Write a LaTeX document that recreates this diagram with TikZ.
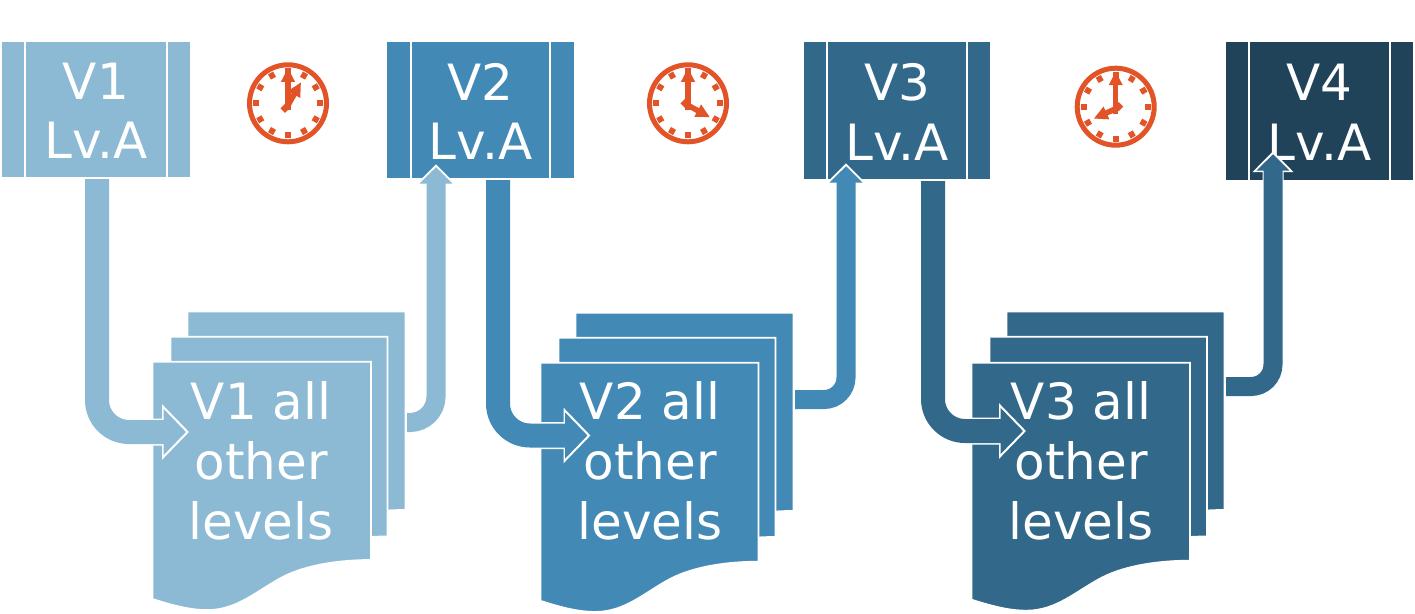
\documentclass[tikz,border=0pt]{standalone}
\usepackage{fontspec}
\setmainfont{DejaVu Sans}
\usetikzlibrary{arrows.meta}
\definecolor{cone}{HTML}{8CB9D4}
\definecolor{ctwo}{HTML}{4389B5}
\definecolor{cthree}{HTML}{32688A}
\definecolor{cfour}{HTML}{20435A}
\definecolor{corange}{HTML}{E25328}
\tikzset{
  lvnode/.style={fill=#1,text=white,inner sep=0pt,align=center,font=\fontsize{50}{60}\selectfont},
  doctext/.style={text=white,inner sep=0pt,align=center,font=\fontsize{50}{60}\selectfont},
  sepline/.style={draw=white,line width=1.8pt},
  page/.style={fill=#1,draw=white,line width=1.8pt},
  thickflow/.style={draw=#1,line width=24pt,shorten >=3pt,-{Triangle[length=22.5pt,width=45pt]},
    preaction={draw=white,line width=27pt,shorten >=0pt,-{Triangle[length=27pt,width=54pt]}}},
  thinflow/.style={draw=#1,line width=19pt,shorten >=3pt,-{Triangle[length=16.5pt,width=32pt]},
    preaction={draw=white,line width=21pt,shorten >=0pt,-{Triangle[length=21pt,width=40pt]}}},
  clockhand/.style={draw=corange,line width=5.5pt,-{Triangle[length=14pt,width=13pt]}},
}
\newcommand{\docpage}[5]{%
  \pgfmathsetmacro{\pw}{#3/218}\pgfmathsetmacro{\ph}{#4/198}%
  \path[page=#5,shift={(#1,#2)},xscale=\pw,yscale=\ph] (0,0) -- (218,0) -- (218,198)
    .. controls (190,198) and (155,202) .. (130,215)
    .. controls (105,228) and (85,248) .. (55,248)
    .. controls (38,248) and (22,244) .. (0,237) -- cycle;}
\newcommand{\lvsep}[3]{%
  \draw[sepline] ([xshift=#2pt]#1.north west) -- ([xshift=#2pt]#1.south west);
  \draw[sepline] ([xshift=-#3pt]#1.north east) -- ([xshift=-#3pt]#1.south east);}
\newcommand{\lvtext}[2]{\raisebox{-1.5pt}[\height][\depth]{#1}\\\raisebox{-1pt}[\height][\depth]{#2}}
\newcommand{\clockface}[6]{%
  \begin{scope}[shift={(#1,#2)}]
    \draw[corange,line width=5pt] (0,0) circle (38.5pt);
    \foreach \a in {0,30,...,330}
      \fill[corange,rotate=\a] (29,-2.9) rectangle (35,2.9);
    \draw[clockhand] (0,7) -- (0,-35.5);
    \draw[clockhand] (0,2) -- (#3,#4);
    \fill[corange,rotate around={45:(#5,#6)}] (#5-3.2,#6-3.2) rectangle (#5+3.2,#6+3.2);
  \end{scope}}
\begin{document}
\begin{tikzpicture}[x=1pt,y=-1pt]
\useasboundingbox (0,0) rectangle (1415,613);
% level A boxes
\node[lvnode=cone,minimum width=188pt,minimum height=135pt] (v1) at (96,109.5) {\lvtext{V1}{Lv.A}};
\node[lvnode=ctwo,minimum width=187pt,minimum height=136pt] (v2) at (480.5,110) {\lvtext{V2}{Lv.A}};
\node[lvnode=cthree,minimum width=186pt,minimum height=137pt] (v3) at (897,110.5) {\lvtext{V3}{Lv.A}};
\node[lvnode=cfour,minimum width=187pt,minimum height=138pt] (v4) at (1319.5,111) {\lvtext{V4}{Lv.A}};
\lvsep{v1}{23}{23}
\lvsep{v2}{24}{24}
\lvsep{v3}{23}{23}
\lvsep{v4}{23}{23}
% clocks
\clockface{288}{103.3}{13}{-21}{-3}{5}
\clockface{688}{103.3}{22}{14}{-3}{0}
\clockface{1115.7}{106.7}{-22}{12}{3}{0}
% document stacks
\docpage{187.5}{311.5}{218}{198.5}{cone}
\docpage{170.5}{336.7}{217}{199.8}{cone}
\docpage{152.5}{361.7}{218.5}{198.3}{cone}
\docpage{575.5}{312.7}{218}{198.3}{ctwo}
\docpage{558.5}{337.7}{217}{199.3}{ctwo}
\docpage{540.5}{362.7}{218}{199}{ctwo}
\docpage{1006.5}{311.5}{218}{198.5}{cthree}
\docpage{989.5}{336.7}{217.5}{199.8}{cthree}
\docpage{971.5}{362.7}{218.5}{198}{cthree}
\node[doctext] (d1) at (261,461) {V1 all\\other\\levels};
\node[doctext] (d2) at (650,461) {V2 all\\other\\levels};
\node[doctext] (d3) at (1081,461) {V3 all\\other\\levels};
% connector ends
\coordinate (s1) at ([shift={(1,2)}]v1.south);
\coordinate (s2) at ([shift={(17.5,2)}]v2.south);
\coordinate (s3) at ([shift={(36,2)}]v3.south);
\coordinate (e1) at (189,432);
\coordinate (e2) at (590.5,435.5);
\coordinate (e3) at (1026,431);
\coordinate (r1) at (407,422.5);
\coordinate (r2) at (795,399.5);
\coordinate (r3) at (1226,386.5);
\coordinate (t1) at ([xshift=-44.5pt,yshift=14pt]v2.south);
\coordinate (t2) at ([xshift=-51pt,yshift=16pt]v3.south);
\coordinate (t3) at ([xshift=-46.5pt,yshift=29pt]v4.south);
% connectors
\draw[thickflow=cone,rounded corners=32pt] (s1) |- (e1);
\draw[thickflow=ctwo,rounded corners=32pt] (s2) |- (e2);
\draw[thickflow=cthree,rounded corners=32pt] (s3) |- (e3);
\draw[thinflow=cone,rounded corners=26pt] (r1) -| (t1);
\draw[thinflow=ctwo,rounded corners=22pt] (r2) -| (t2);
\draw[thinflow=cthree,rounded corners=22pt] (r3) -| (t3);
\end{tikzpicture}
\end{document}
